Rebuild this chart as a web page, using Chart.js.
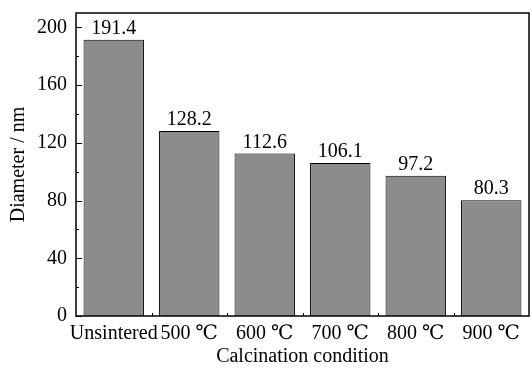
<!DOCTYPE html>
<html>
<head>
<meta charset="utf-8">
<script src="https://cdn.jsdelivr.net/npm/chart.js@4/dist/chart.umd.min.js"></script>
<style>
  html, body { margin: 0; padding: 0; background: #fff; }
  #box { width: 532px; height: 369px; }
</style>
</head>
<body>
<div id="box"><canvas id="grafico"></canvas></div>
<script>
// dados do gráfico
const categorias = ["Unsintered", "500 ℃", "600 ℃", "700 ℃", "800 ℃", "900 ℃"];
const diametros = [191.4, 128.2, 112.6, 106.1, 97.2, 80.3];
const ticksY = [0, 40, 80, 120, 160, 200];

const fonte = "'Liberation Serif', 'DejaVu Serif', 'Times New Roman', serif";
const tam = 20;

// moldura, ticks para dentro e rótulos dos valores
const extras = {
  id: "extras",
  afterDraw(chart) {
    const { ctx, chartArea: a, scales } = chart;
    const y = scales.y, x = scales.x;
    ctx.save();
    ctx.strokeStyle = "#000";
    ctx.lineWidth = 1;
    // ticks do eixo y
    for (let v = 0; v <= 200; v += 20) {
      const py = Math.round(y.getPixelForValue(v)) + 0.5;
      const len = v % 40 === 0 ? 6 : 3;
      ctx.beginPath();
      ctx.moveTo(a.left, py);
      ctx.lineTo(a.left + len, py);
      ctx.stroke();
    }
    // ticks menores do eixo x entre as barras
    for (let i = 1; i < categorias.length; i++) {
      const px = Math.round((x.getPixelForValue(i - 1) + x.getPixelForValue(i)) / 2) + 0.5;
      ctx.beginPath();
      ctx.moveTo(px, a.bottom);
      ctx.lineTo(px, a.bottom - 3);
      ctx.stroke();
    }
    // moldura
    ctx.lineWidth = 1.5;
    ctx.strokeRect(a.left, a.top, a.right - a.left, a.bottom - a.top);
    // valores acima das barras
    ctx.fillStyle = "#000";
    ctx.font = tam + "px " + fonte;
    ctx.textAlign = "center";
    ctx.textBaseline = "alphabetic";
    chart.getDatasetMeta(0).data.forEach((bar, i) => {
      ctx.fillText(diametros[i].toFixed(1), bar.x, bar.y - 6);
    });
    ctx.restore();
  }
};

new Chart(document.getElementById("grafico"), {
  type: "bar",
  data: {
    labels: categorias,
    datasets: [{
      data: diametros,
      backgroundColor: "#8c8c8c",
      borderColor: "#000",
      borderWidth: 1,
      barPercentage: 0.8,
      categoryPercentage: 1
    }]
  },
  options: {
    responsive: true,
    maintainAspectRatio: false,
    animation: false,
    layout: { padding: { top: 13, right: 3, left: 0, bottom: 0 } },
    plugins: {
      legend: { display: false },
      tooltip: { enabled: false }
    },
    scales: {
      x: {
        afterFit: (s) => { s.height = 53; s.paddingLeft = 0; s.paddingRight = 0; },
        grid: { display: false, drawTicks: false },
        border: { display: false },
        ticks: { color: "#000", font: { family: fonte, size: tam }, padding: 6, maxRotation: 0, autoSkip: false },
        title: { display: true, text: "Calcination condition", color: "#000", font: { family: fonte, size: tam }, padding: { top: 0, bottom: 0 } }
      },
      y: {
        min: 0,
        max: 210,
        afterFit: (s) => { s.width = 76; s.paddingTop = 0; s.paddingBottom = 0; },
        afterBuildTicks: (s) => { s.ticks = ticksY.map(v => ({ value: v })); },
        grid: { display: false, drawTicks: false },
        border: { display: false },
        ticks: { color: "#000", font: { family: fonte, size: tam }, padding: 9 },
        title: { display: true, text: "Diameter / nm", color: "#000", font: { family: fonte, size: tam }, padding: { top: 7, bottom: 0 } }
      }
    }
  },
  plugins: [extras]
});
</script>
</body>
</html>
